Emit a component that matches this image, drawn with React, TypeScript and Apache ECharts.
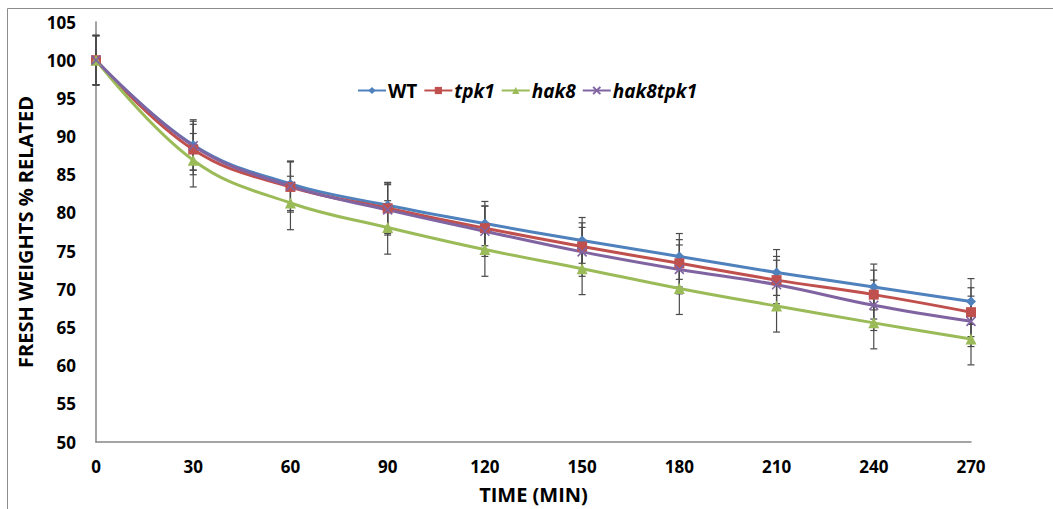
import React, { useEffect, useRef } from "react";
import * as echarts from "echarts";

const times = [0, 30, 60, 90, 120, 150, 180, 210, 240, 270];
const seriesNames = ["WT", "tpk1", "hak8", "hak8tpk1"];
const wt = [100, 88.9, 83.8, 81.0, 78.6, 76.4, 74.3, 72.2, 70.3, 68.4];
const tpk1 = [100, 88.3, 83.4, 80.6, 78.0, 75.6, 73.4, 71.2, 69.3, 67.0];
const hak8 = [100, 86.9, 81.3, 78.1, 75.2, 72.7, 70.1, 67.8, 65.6, 63.5];
const hak8tpk1 = [100, 88.8, 83.5, 80.4, 77.6, 74.9, 72.6, 70.6, 67.9, 65.8];
const wtErr = [3.3, 3.3, 3.0, 3.0, 2.9, 3.0, 3.0, 3.0, 3.0, 3.0];
const tpk1Err = [3.2, 3.3, 3.3, 3.3, 2.9, 3.1, 3.1, 3.1, 3.2, 3.2];
const hak8Err = [3.2, 3.5, 3.5, 3.5, 3.5, 3.4, 3.4, 3.4, 3.4, 3.4];
const hak8tpk1Err = [3.2, 3.2, 3.2, 3.3, 3.3, 3.2, 3.2, 3.2, 3.3, 3.3];
const colors = ["#4F81BD", "#C0504D", "#9BBB59", "#8064A2"];
const symbols = [
  "diamond",
  "rect",
  "triangle",
  "path://M0,0 L10,10 M10,0 L0,10",
];

const FONT = "'Open Sans', 'Noto Sans', sans-serif";

export default function App() {
  const ref = useRef<HTMLDivElement>(null);
  useEffect(() => {
    if (!ref.current) return;
    const chart = echarts.init(ref.current, undefined, { renderer: "svg" });
    const values = [wt, tpk1, hak8, hak8tpk1];
    const errs = [wtErr, tpk1Err, hak8Err, hak8tpk1Err];

    const errSeries = values.map((vals, si) => ({
      type: "custom",
      name: seriesNames[si] + " err",
      z: 1,
      silent: true,
      data: times.map((t, i) => [t, vals[i] - errs[si][i], vals[i] + errs[si][i]]),
      encode: { x: 0, y: [1, 2] },
      renderItem: (params: any, api: any) => {
        const x = api.value(0);
        const lo = api.coord([x, api.value(1)]);
        const hi = api.coord([x, api.value(2)]);
        const w = 3.5;
        const st = { stroke: "#4a4a4a", lineWidth: 1.2 };
        return {
          type: "group",
          children: [
            { type: "line", shape: { x1: lo[0], y1: lo[1], x2: hi[0], y2: hi[1] }, style: st },
            { type: "line", shape: { x1: lo[0] - w, y1: lo[1], x2: lo[0] + w, y2: lo[1] }, style: st },
            { type: "line", shape: { x1: hi[0] - w, y1: hi[1], x2: hi[0] + w, y2: hi[1] }, style: st },
          ],
        };
      },
    }));

    const lineSeries = values.map((vals, si) => ({
      type: "line",
      name: seriesNames[si],
      z: 3,
      data: times.map((t, i) => [t, vals[i]]),
      smooth: 0.4,
      symbol: symbols[si],
      symbolSize: si === 2 ? 11 : si === 3 ? 9 : 10,
      lineStyle: { color: colors[si], width: 3 },
      itemStyle:
        si === 3
          ? { color: colors[si], borderColor: colors[si], borderWidth: 1.6 }
          : { color: colors[si] },
      emphasis: { disabled: true },
    }));

    chart.setOption({
      animation: false,
      backgroundColor: "#ffffff",
      color: colors,
      textStyle: { fontFamily: FONT },
      graphic: [
        {
          type: "rect",
          shape: { x: 7.5, y: 8.5, width: 1200, height: 700 },
          style: { fill: "none", stroke: "#8c8c8c", lineWidth: 1 },
          silent: true,
          z: 0,
        },
      ],
      legend: {
        data: seriesNames,
        left: 357,
        top: 81,
        itemWidth: 28,
        itemHeight: 9,
        itemGap: 6,
        padding: 0,
        formatter: (name: string) => (name === "WT" ? `{n|${name}}` : `{i|${name}}`),
        textStyle: {
          fontFamily: FONT,
          fontSize: 19,
          fontWeight: "bold",
          color: "#000",
          padding: [0, 0, 0, -3],
          rich: {
            n: { fontFamily: FONT, fontSize: 19, fontWeight: "bold", color: "#000" },
            i: { fontFamily: FONT, fontSize: 19, fontWeight: "bold", fontStyle: "italic", color: "#000" },
          },
        },
      },
      grid: { left: 96, right: 82, top: 22, bottom: 67, containLabel: false, outerBoundsMode: "none" },
      xAxis: {
        type: "value",
        min: 0,
        max: 270,
        interval: 30,
        name: "TIME (MIN)",
        nameLocation: "middle",
        nameGap: 42,
        nameTextStyle: { fontFamily: FONT, fontSize: 20, fontWeight: "bold", color: "#000" },
        axisLine: { show: true, lineStyle: { color: "#868686", width: 1.5 } },
        axisTick: { show: false },
        splitLine: { show: false },
        axisLabel: { fontFamily: FONT, fontSize: 17, fontWeight: "bold", color: "#000", margin: 16 },
      },
      yAxis: {
        type: "value",
        min: 50,
        max: 105,
        interval: 5,
        name: "FRESH WEIGHTS % RELATED",
        nameLocation: "middle",
        nameGap: 52,
        nameTextStyle: { fontFamily: FONT, fontSize: 20, fontWeight: "bold", color: "#000" },
        axisLine: { show: true, lineStyle: { color: "#868686", width: 1.5 } },
        axisTick: { show: false },
        splitLine: { show: false },
        axisLabel: { fontFamily: FONT, fontSize: 17, fontWeight: "bold", color: "#000", margin: 20 },
      },
      series: [...errSeries, ...lineSeries],
    });
    return () => chart.dispose();
  }, []);
  return (
    <div
      ref={ref}
      style={{ position: "absolute", left: 0, top: 0, width: 1053, height: 509, background: "#fff" }}
    />
  );
}
